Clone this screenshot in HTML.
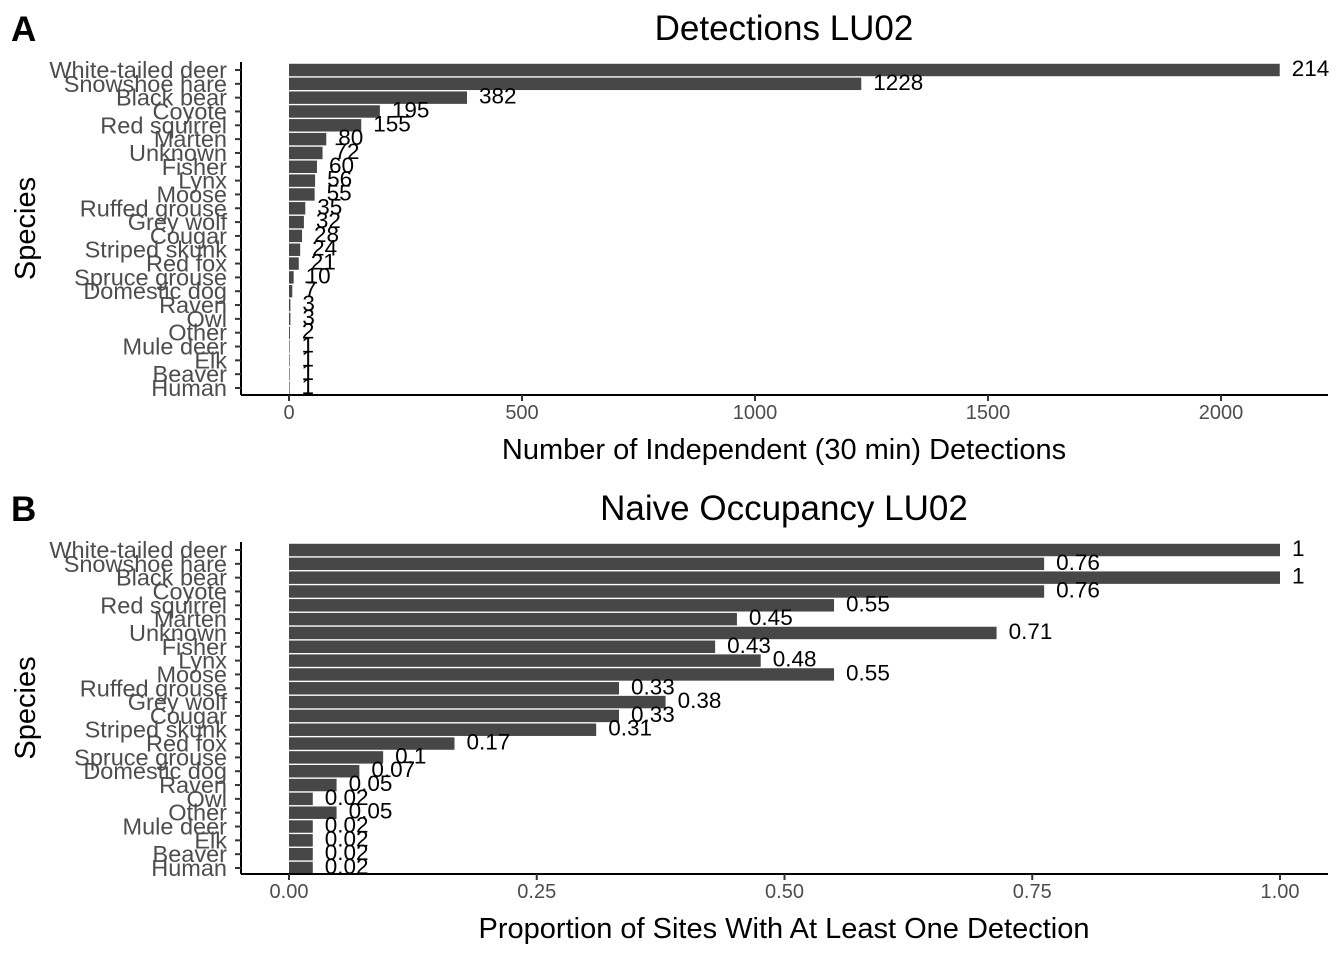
<!DOCTYPE html>
<html><head><meta charset="utf-8"><style>
html,body{margin:0;padding:0;background:#fff}
svg{display:block;font-family:"Liberation Sans",Arial,sans-serif}
</style></head><body>
<svg id="chart" width="1344" height="960" viewBox="0 0 1344 960" xmlns="http://www.w3.org/2000/svg">
<defs>
<clipPath id="clipA"><rect x="241" y="55" width="1089" height="345"/></clipPath>
<clipPath id="clipB"><rect x="241" y="535" width="1089" height="345"/></clipPath>
</defs>
</svg>
<script>
const species = ["White-tailed deer","Snowshoe hare","Black bear","Coyote","Red squirrel","Marten","Unknown","Fisher","Lynx","Moose","Ruffed grouse","Grey wolf","Cougar","Striped skunk","Red fox","Spruce grouse","Domestic dog","Raven","Owl","Other","Mule deer","Elk","Beaver","Human"];
const detections = [2126,1228,382,195,155,80,72,60,56,55,35,32,28,24,21,10,7,3,3,2,1,1,1,1];
const detectionLabels = ["2141","1228","382","195","155","80","72","60","56","55","35","32","28","24","21","10","7","3","3","2","1","1","1","1"];
const occupancy = [1,0.762,1,0.762,0.55,0.452,0.714,0.43,0.476,0.55,0.333,0.38,0.333,0.31,0.167,0.095,0.071,0.048,0.024,0.048,0.024,0.024,0.024,0.024];
const occupancyLabels = ["1","0.76","1","0.76","0.55","0.45","0.71","0.43","0.48","0.55","0.33","0.38","0.33","0.31","0.17","0.1","0.07","0.05","0.02","0.05","0.02","0.02","0.02","0.02"];
const ticksA = [0,500,1000,1500,2000];
const tickLabelsA = ["0","500","1000","1500","2000"];
const ticksB = [0,0.25,0.5,0.75,1];
const tickLabelsB = ["0.00","0.25","0.50","0.75","1.00"];

const svg = document.getElementById('chart');
const NS = 'http://www.w3.org/2000/svg';
function mk(tag, attrs, parent, text){
  const e = document.createElementNS(NS, tag);
  for (const k in attrs) e.setAttribute(k, attrs[k]);
  if (text !== undefined) e.textContent = text;
  (parent || svg).appendChild(e);
  return e;
}

function panel(opt){
  const g = mk('g', {});
  
  
  const x = v => opt.x0 + (v - opt.dmin) * (opt.x1 - opt.x0) / (opt.dmax - opt.dmin);
  const step = (opt.yLast - opt.yFirst) / (species.length - 1);
  const y = i => opt.yFirst + i * step;
  const L = mk('text', {x: 11, y: opt.top + 41, 'font-size': 35, 'font-weight': 'bold', fill: '#000'}, g, opt.letter);
  
  
  const T = mk('text', {x: 784, y: opt.top + 40, 'font-size': 35, 'text-anchor': 'middle', fill: '#000'}, g, opt.title);
  
  
  const bars = mk('g', {'clip-path': opt.clip}, g);
  const barH = step * 0.9;
  species.forEach((s, i) => {
    const v = opt.values[i];
    const r = mk('rect', {x: x(0), y: y(i) - barH/2, width: Math.max(0.6, x(v) - x(0)), height: barH, fill: '#474747'}, bars);
    
    
  });
  species.forEach((s, i) => {
    const t = mk('text', {x: x(opt.values[i]) + 12, y: y(i) + 6, 'font-size': 22.5, fill: '#000'}, bars, opt.labels[i]);
    
    
  });
  const ya = mk('line', {x1: 241, x2: 241, y1: opt.axisTop, y2: opt.axisBottom, stroke: '#000', 'stroke-width': 2}, g);
  
  
  species.forEach((s, i) => {
    mk('line', {x1: 235, x2: 241, y1: y(i), y2: y(i), stroke: '#333', 'stroke-width': 2}, g);
    const t = mk('text', {x: 227, y: y(i) + 8, 'font-size': 23.5, 'text-anchor': 'end', fill: '#4d4d4d'}, g, s);
    
    
  });
  const xa = mk('line', {x1: 241, x2: 1328, y1: opt.axisBottom, y2: opt.axisBottom, stroke: '#000', 'stroke-width': 2}, g);
  
  
  opt.ticks.forEach((tv, i) => {
    mk('line', {x1: x(tv), x2: x(tv), y1: opt.axisBottom, y2: opt.axisBottom + 6, stroke: '#333', 'stroke-width': 2}, g);
    const t = mk('text', {x: x(tv), y: opt.axisBottom + 24, 'font-size': 20, 'text-anchor': 'middle', fill: '#4d4d4d'}, g, opt.tickLabels[i]);
    
    
  });
  const xt = mk('text', {x: 784, y: opt.axisBottom + 64, 'font-size': 29, 'text-anchor': 'middle', fill: '#000'}, g, opt.xTitle);
  
  
  const cy = (opt.axisTop + opt.axisBottom) / 2;
  const yt = mk('text', {x: 35, y: cy, 'font-size': 29, 'text-anchor': 'middle', fill: '#000', transform: 'rotate(-90 35 ' + cy + ')'}, g, 'Species');
  
  
}

panel({name: 'panel-a-detections', letter: 'A', title: 'Detections LU02', top: 0,
  values: detections, labels: detectionLabels, ticks: ticksA, tickLabels: tickLabelsA,
  dmin: 0, dmax: 2000, x0: 289, x1: 1221, yFirst: 70, yLast: 388, axisTop: 62, axisBottom: 395,
  clip: 'url(#clipA)', xTitle: 'Number of Independent (30 min) Detections'});
panel({name: 'panel-b-occupancy', letter: 'B', title: 'Naive Occupancy LU02', top: 480,
  values: occupancy, labels: occupancyLabels, ticks: ticksB, tickLabels: tickLabelsB,
  dmin: 0, dmax: 1, x0: 289, x1: 1280, yFirst: 550, yLast: 868, axisTop: 542, axisBottom: 874,
  clip: 'url(#clipB)', xTitle: 'Proportion of Sites With At Least One Detection'});
</script>
</body></html>
